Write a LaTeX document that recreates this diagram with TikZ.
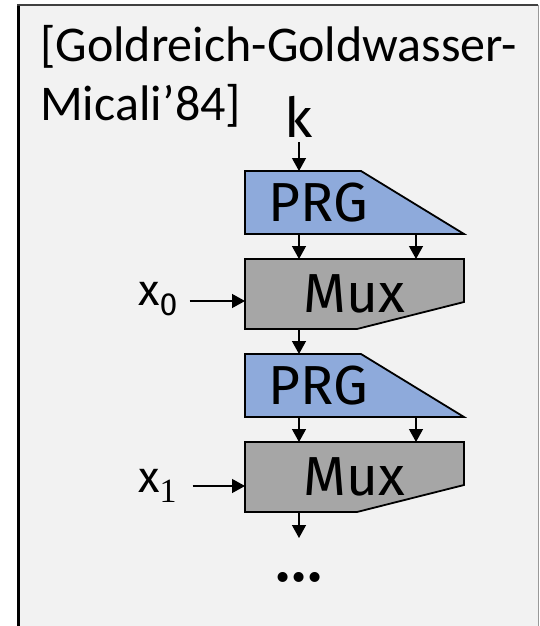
\documentclass[tikz,border=0pt]{standalone}
\usepackage{fontspec}
\setmainfont{Carlito}
\newfontfamily\comicfont{Fira Sans}
\newfontfamily\numfont{Liberation Serif}
\usetikzlibrary{arrows.meta, positioning}
\definecolor{panelbg}{HTML}{F2F2F2}
\definecolor{prgblue}{HTML}{8EAADB}
\definecolor{muxgray}{HTML}{A6A6A6}

\begin{document}
\begin{tikzpicture}[
    x=1pt, y=-1pt,
    node distance = 25pt,
    blk/.style={rectangle, minimum width=219pt, inner sep=0pt, outer sep=0pt},
    prg/.style={blk, minimum height=63pt},
    mux/.style={blk, minimum height=70pt},
    shape_line/.style={draw=black, line width=1.8pt, line join=miter},
    lbl/.style={font=\comicfont\fontsize{55}{55}\selectfont, inner sep=0pt},
    varlbl/.style={font=\comicfont\fontsize{44}{44}\selectfont, inner sep=0pt},
    title/.style={anchor=base west, inner sep=0pt, font=\fontsize{50}{60}\selectfont},
    arr/.style={draw, line width=1.3pt, -{Triangle[length=13pt, width=14pt]}}
  ]

  \useasboundingbox (0,0) rectangle (539,626);
  % panel
  \fill[panelbg] (18,5) rectangle (538,626);
  \draw[black, line width=3pt] (18.5,4) -- (18.5,626);
  \draw[black!75, line width=2pt] (17,5) -- (538,5);
  \draw[black!40, line width=1pt] (538,5) -- (538,626);

  \node[title] (title1) at (40,61) {[Goldreich-Goldwasser-};
  \node[title] (title2) at (40,120) {Micali’84]};

  \node[prg] (prg0) at (354.5,202.5) {};
  \node[mux, below=of prg0] (mux0) {};
  \node[prg, below=of mux0] (prg1) {};
  \node[mux, below=of prg1] (mux1) {};

  \foreach \p in {prg0, prg1}
    \draw[shape_line, fill=prgblue] (\p.north west) -- ++(116,0) -- (\p.south east) -- (\p.south west) -- cycle;
  \foreach \m in {mux0, mux1}
    \draw[shape_line, fill=muxgray] (\m.north west) -- (\m.north east) -- ([yshift=27pt]\m.south east) -- ([xshift=112pt]\m.south west) -- (\m.south west) -- cycle;

  \node[lbl] (prg0txt) at ([xshift=-36pt]prg0.center) {PRG};
  \node[lbl] (prg1txt) at ([xshift=-36pt]prg1.center) {PRG};
  \node[lbl] (mux0txt) at (mux0.center) {Mux};
  \node[lbl] (mux1txt) at (mux1.center) {Mux};

  \node[lbl, anchor=base] (k) at (299,137) {k};
  \draw[arr] ([yshift=-5pt]k.south) -- (k.south |- prg0.north);

  \foreach \a/\b in {prg0/mux0, prg1/mux1} {
    \draw[arr] ([xshift=54pt]\a.south west) -- ([xshift=54pt]\b.north west);
    \draw[arr] ([xshift=171pt]\a.south west) -- ([xshift=171pt]\b.north west);
  }
  \draw[arr] ([xshift=54pt]mux0.south west) -- ([xshift=54pt]prg1.north west);

  % inputs
  \node[varlbl, anchor=base west] (x0) at (138,305) {x\raisebox{-10pt}{\fontsize{32}{32}\selectfont 0}};
  \node[varlbl, anchor=base west] (x1) at (138,492) {x\raisebox{-10pt}{\numfont\fontsize{34}{34}\selectfont 1}};
  \coordinate (in0) at ([yshift=-7pt]mux0.west);
  \coordinate (in1) at ([yshift=-9pt]mux1.west);
  \coordinate (x0out) at ([xshift=12pt]x0.east);
  \coordinate (x1out) at ([xshift=16pt]x1.east);
  \draw[arr] (x0out |- in0) -- (in0);
  \draw[arr] (x1out |- in1) -- (in1);

  \coordinate (out1) at ([xshift=54pt, yshift=-26pt]mux1.south west);
  \draw[arr] ([xshift=54pt]mux1.south west) -- (out1);
  \node[lbl, font=\comicfont\bfseries\fontsize{55}{55}\selectfont, below=34pt of out1] (dots) {.\kern3pt.\kern3pt.};

\end{tikzpicture}
\end{document}
